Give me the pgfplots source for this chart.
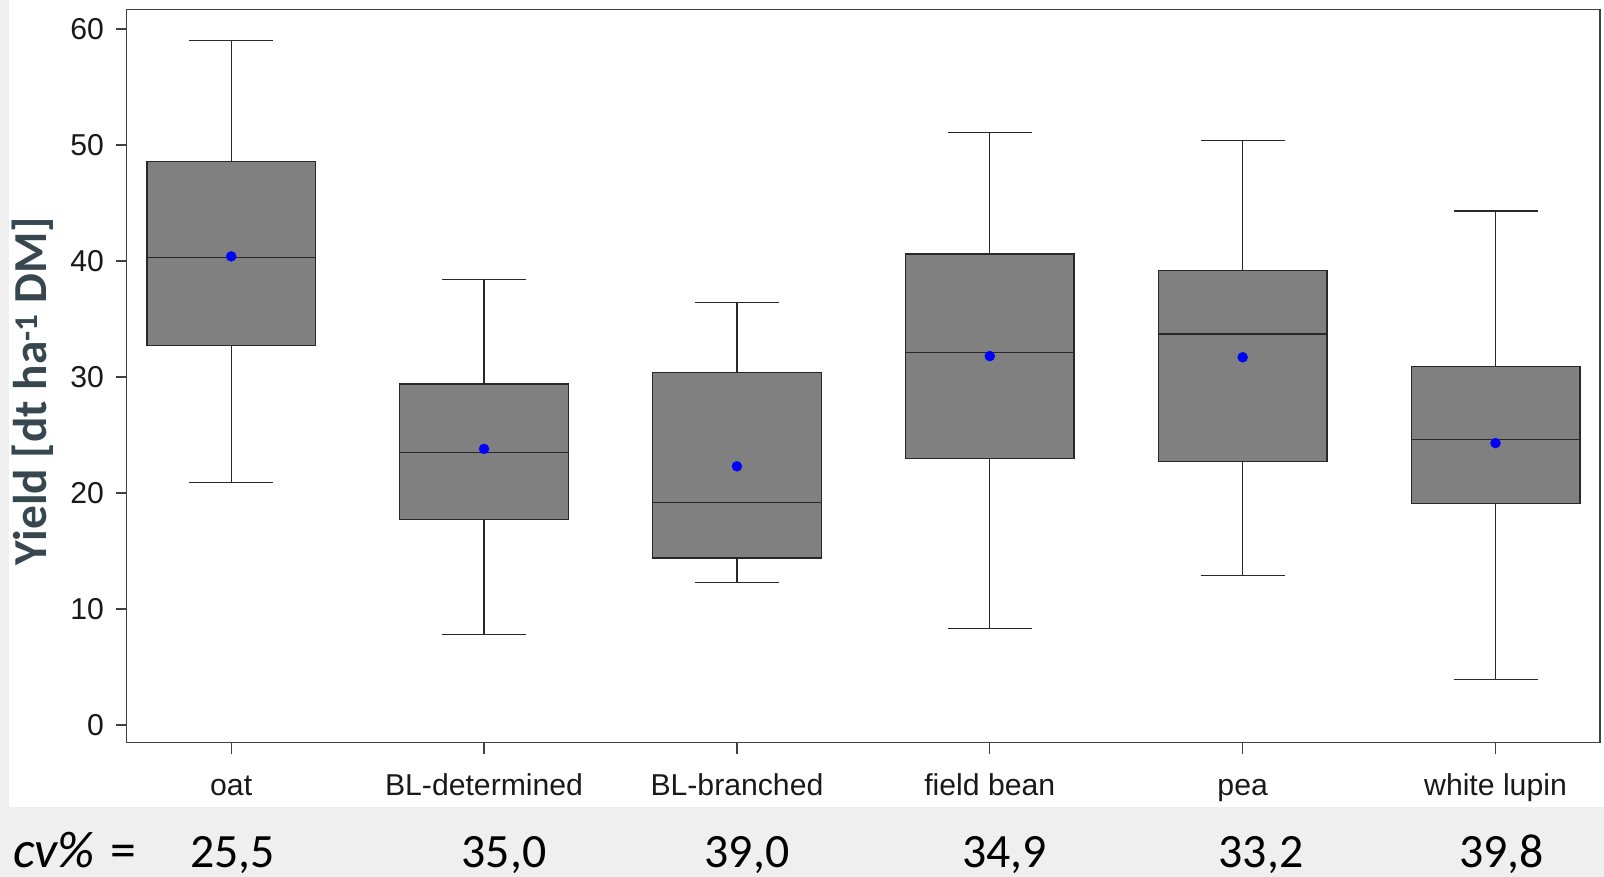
\documentclass[border=0pt]{standalone}
\usepackage{fontspec}
\setmainfont{Liberation Sans}
\newfontfamily\carlito{Carlito}
\usepackage{pgfplots}
\pgfplotsset{compat=1.18}
\usepgfplotslibrary{statistics}
\definecolor{boxgray}{RGB}{128,128,128}
\definecolor{linec}{RGB}{40,40,40}
\definecolor{labc}{RGB}{55,71,79}
\definecolor{bandgray}{RGB}{239,239,239}
\pgfplotsset{boxplot/draw direction=y, boxplot/box extend=0.667, boxplot/whisker extend=0.332}
\begin{document}
\begin{tikzpicture}
\fill[bandgray] (0bp,0bp) rectangle (1604bp,877bp);
\fill[white] (8.5bp,70bp) rectangle (1604bp,877bp);
\useasboundingbox (0bp,0bp) rectangle (1604bp,877bp);
\begin{axis}[at={(126.5bp,134.3bp)}, anchor=south west, scale only axis,
  width=1473.5bp, height=733.4bp,
  xmin=0.586, xmax=6.413, ymin=-1.53, ymax=61.7,
  xtick={1,2,3,4,5,6},
  xticklabels={oat,BL-determined,BL-branched,field bean,pea,white lupin},
  ytick={0,10,20,30,40,50,60},
  tick align=outside, xtick pos=left, ytick pos=left,
  major tick length=11bp,
  axis line style={draw=black!75, line width=1.3bp},
  tick style={draw=black!75, line width=1.3bp},
  ticklabel style={font=\fontsize{30.3}{32}\selectfont, text=black!90},
  xticklabel style={anchor=north, inner sep=0pt, text height=21bp, text depth=6bp, yshift=-21bp},
  yticklabel style={xshift=-8bp},
  clip=false,
  /pgf/number format/assume math mode=true]
\addplot[boxplot prepared={lower whisker=20.9, lower quartile=32.7, median=40.3, upper quartile=48.6, upper whisker=59.0, draw position=1}, draw=linec, fill=boxgray, line width=1.3bp, solid] coordinates {};
\addplot[boxplot prepared={lower whisker=7.8, lower quartile=17.7, median=23.5, upper quartile=29.4, upper whisker=38.4, draw position=2}, draw=linec, fill=boxgray, line width=1.3bp, solid] coordinates {};
\addplot[boxplot prepared={lower whisker=12.3, lower quartile=14.4, median=19.2, upper quartile=30.4, upper whisker=36.4, draw position=3}, draw=linec, fill=boxgray, line width=1.3bp, solid] coordinates {};
\addplot[boxplot prepared={lower whisker=8.3, lower quartile=23.0, median=32.1, upper quartile=40.6, upper whisker=51.1, draw position=4}, draw=linec, fill=boxgray, line width=1.3bp, solid] coordinates {};
\addplot[boxplot prepared={lower whisker=12.9, lower quartile=22.7, median=33.7, upper quartile=39.2, upper whisker=50.4, draw position=5}, draw=linec, fill=boxgray, line width=1.3bp, solid] coordinates {};
\addplot[boxplot prepared={lower whisker=3.9, lower quartile=19.1, median=24.6, upper quartile=30.9, upper whisker=44.3, draw position=6}, draw=linec, fill=boxgray, line width=1.3bp, solid] coordinates {};
\addplot[only marks, mark=*, mark size=5bp, mark options={draw=blue, fill=blue}] coordinates {(1,40.4) (2,23.8) (3,22.3) (4,31.8) (5,31.7) (6,24.3)};
\end{axis}
\node[rotate=90, anchor=base, font=\carlito\bfseries\fontsize{47.5}{49}\selectfont, text=labc] at (46bp,486bp) {Yield [dt ha\textsuperscript{-1} DM]};
\node[anchor=base west, inner sep=0pt, font=\carlito\fontsize{52}{55}\selectfont] at (13bp,10bp) {\itshape cv\%};
\node[anchor=base west, inner sep=0pt, font=\carlito\fontsize{52}{55}\selectfont] at (110bp,10bp) {=};
\foreach \xx/\vv in {232.7/{25,5}, 504/{35,0}, 747/{39,0}, 1004.6/{34,9}, 1261/{33,2}, 1501.7/{39,8}}
  \node[anchor=base, inner sep=0pt, font=\carlito\fontsize{48}{50}\selectfont] at (\xx bp,10bp) {\vv};
\end{tikzpicture}
\end{document}
